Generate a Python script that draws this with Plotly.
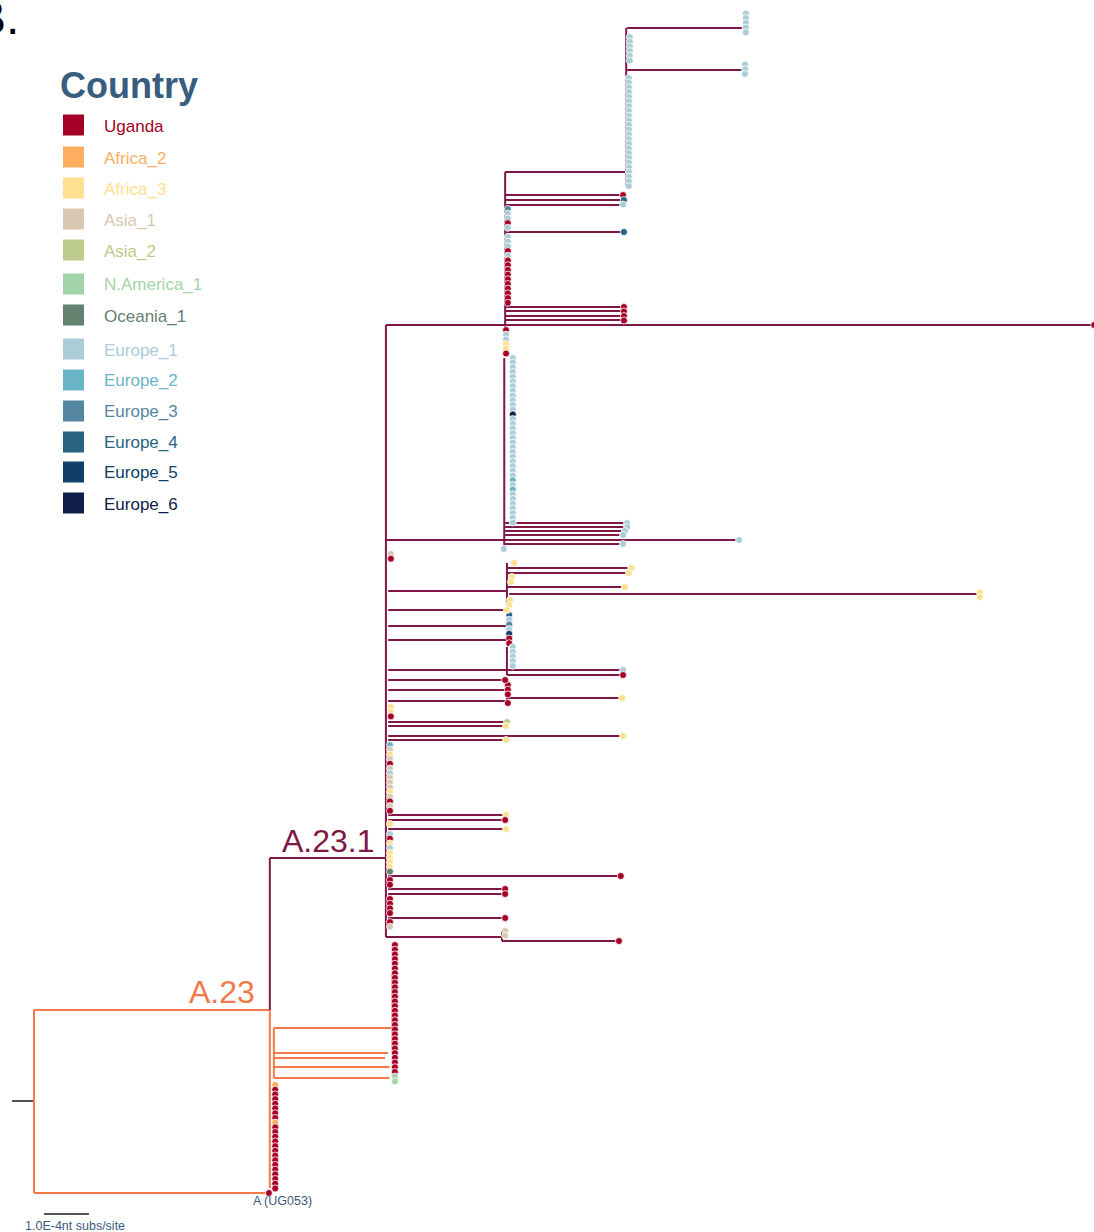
import plotly.graph_objects as go

# ---------------- data ----------------
COUNTRIES = ["Uganda", "Africa_2", "Africa_3", "Asia_1", "Asia_2", "N.America_1", "Oceania_1",
             "Europe_1", "Europe_2", "Europe_3", "Europe_4", "Europe_5", "Europe_6"]
CODES = ["U", "a", "f", "s", "t", "n", "o", "1", "2", "3", "4", "5", "6"]
COLORS = ["#a50026", "#fdae61", "#fee090", "#d8c8b1", "#bdcb8c", "#a2d4a8", "#648270",
          "#abcdd8", "#6bb4c8", "#5587a0", "#29637f", "#0f3e66", "#10204a"]

CLADE_COLORS = {"r": "#1a1a1a", "A": "#f4784a", "B": "#7f1747"}

# horizontal branches: (clade, y = tip order, x0, x1 = divergence in 1e-4 subs/site)
H_BRANCHES = [
    ("r", 1101, -0.49, 0.0),
    ("A", 1010, 0.0, 5.24), ("A", 1193, 0.0, 5.22),
    ("A", 1028, 5.33, 7.96), ("A", 1053, 5.33, 7.87), ("A", 1058, 5.33, 7.80),
    ("A", 1067, 5.33, 7.90), ("A", 1078, 5.33, 7.90),
    ("B", 858, 5.24, 7.82), ("B", 325, 7.82, 23.56), ("B", 540, 7.82, 15.67),
    ("B", 172, 10.47, 13.16), ("B", 195, 10.47, 13.09), ("B", 200, 10.47, 13.11),
    ("B", 205, 10.47, 13.09), ("B", 232, 10.47, 13.11), ("B", 307, 10.47, 13.11),
    ("B", 311, 10.47, 13.11), ("B", 316, 10.47, 13.11), ("B", 320, 10.47, 13.11),
    ("B", 28, 13.18, 15.73), ("B", 70, 13.18, 15.73),
    ("B", 523, 10.47, 13.18), ("B", 527, 10.47, 13.18), ("B", 531, 10.47, 13.13),
    ("B", 535, 10.47, 13.09), ("B", 544, 10.47, 13.09),
    ("B", 591, 7.87, 10.51), ("B", 568, 10.51, 13.27), ("B", 573, 10.51, 13.22),
    ("B", 587, 10.51, 13.13), ("B", 594, 10.56, 21.02),
    ("B", 610, 7.87, 10.51), ("B", 626, 7.87, 10.51), ("B", 640, 7.87, 10.51),
    ("B", 670, 7.87, 13.09), ("B", 675, 10.51, 13.09), ("B", 680, 7.87, 10.47),
    ("B", 690, 7.87, 10.51), ("B", 698, 10.51, 13.07), ("B", 701, 7.87, 10.51),
    ("B", 722, 7.87, 10.51), ("B", 726, 7.87, 10.49), ("B", 736, 7.87, 13.09),
    ("B", 740, 7.87, 10.49), ("B", 815, 7.87, 10.49), ("B", 820, 7.87, 10.47),
    ("B", 829, 7.87, 10.49), ("B", 876, 7.87, 13.04), ("B", 889, 7.87, 10.47),
    ("B", 894, 7.87, 10.47), ("B", 918, 7.87, 10.47), ("B", 937, 7.82, 10.40),
    ("B", 941, 10.40, 13.00),
]

# vertical branches: (clade, x, y0, y1)
V_BRANCHES = [
    ("A", 0.0, 1010, 1193), ("A", 5.24, 1010, 1188), ("A", 5.33, 1028, 1078),
    ("A", 7.96, 972, 1050),
    ("B", 5.24, 858, 1010), ("B", 7.82, 325, 937), ("B", 10.47, 172, 353),
    ("B", 13.16, 28, 186), ("B", 10.45, 358, 549), ("B", 10.51, 563, 605),
    ("B", 10.51, 615, 643), ("B", 10.51, 647, 675), ("B", 10.51, 685, 703),
    ("B", 10.40, 931, 941),
]

# columns of tips: (x, first tip order, country codes in order)
TIP_COLUMNS = [
    (15.82, 13.5, "11111"),
    (15.80, 64.5, "111"),
    (13.24, 37, "111111"),
    (13.22, 78, "1" * 24),
    (10.53, 209, "311U1"),
    (10.53, 237, "111U1" + "U" * 10),
    (10.49, 330, "U11ffU"),
    (10.64, 358, "1" * 12 + "6" + "1" * 13 + "2" + "1" + "2" + "1" * 7),
    (7.93, 554, "sU"),
    (10.56, 615, "41315UU"),
    (10.64, 647, "11111"),
    (10.53, 685, "UUU"),
    (7.93, 707, "ffU"),
    (7.91, 745, "2sfsUs1sssfsUsU"),
    (7.91, 834, "1Uf1ffffo"),
    (7.91, 880, "UU"),
    (7.91, 899, "UUUU"),
    (7.91, 922, "Us"),
    (10.47, 931, "ss"),
    (8.02, 945, "U" * 28 + "nn"),
    (5.36, 1085, "a" + "U" * 7 + "a" + "U" * 14),
]
TIP_STEP = 4.7

# single tips: (x, tip order, country code)
TIPS = [
    (13.09, 195, "U"), (13.11, 200, "4"), (13.09, 204.5, "1"), (13.11, 232, "4"),
    (13.11, 307, "U"), (13.11, 311.5, "U"), (13.11, 316, "U"), (13.11, 320.5, "U"),
    (23.56, 325, "U"),
    (13.18, 523, "1"), (13.18, 527, "1"), (13.13, 531, "1"), (13.09, 535, "1"),
    (15.67, 540, "1"), (13.09, 544, "1"), (10.44, 549, "1"),
    (10.67, 563, "f"), (13.27, 568, "f"), (13.22, 573, "f"), (10.62, 577, "f"),
    (10.60, 582, "f"), (13.13, 587, "f"), (21.02, 592.5, "f"), (21.02, 597, "f"),
    (10.58, 600, "f"), (10.56, 605, "f"), (10.51, 610, "f"),
    (13.09, 670, "1"), (13.09, 675, "U"), (10.47, 680, "U"), (13.07, 698, "f"),
    (10.53, 703, "U"), (10.51, 722, "t"), (10.49, 726, "f"), (13.09, 736, "f"),
    (10.49, 740, "f"), (10.49, 815, "f"), (10.47, 820, "U"), (7.91, 824, "f"),
    (10.49, 829, "f"), (13.04, 876, "U"), (10.47, 889, "U"), (10.47, 894, "U"),
    (10.47, 918, "U"), (13.00, 941, "U"), (5.22, 1193, "U"),
]

SCALE_BAR = 1.0  # 1.0E-4 nt subs/site

# ---------------- figure ----------------
W, H = 1094, 1232
X_RANGE = [-0.756, 23.556]
Y_RANGE = [1232, 0]

fig = go.Figure()

for clade, col in CLADE_COLORS.items():
    xs, ys = [], []
    for c, y, x0, x1 in H_BRANCHES:
        if c == clade:
            xs += [x0, x1, None]
            ys += [y, y, None]
    for c, x, y0, y1 in V_BRANCHES:
        if c == clade:
            xs += [x, x, None]
            ys += [y0, y1, None]
    fig.add_trace(go.Scatter(x=xs, y=ys, mode="lines",
                             line=dict(color=col, width=2 if clade != "r" else 1.5),
                             hoverinfo="skip", showlegend=False))

code_color = dict(zip(CODES, COLORS))
tx, ty, tc = [], [], []
for x, y0, codes in TIP_COLUMNS:
    for i, ch in enumerate(codes):
        tx.append(x)
        ty.append(y0 + i * TIP_STEP)
        tc.append(code_color[ch])
for x, y, ch in TIPS:
    tx.append(x)
    ty.append(y)
    tc.append(code_color[ch])

fig.add_trace(go.Scatter(x=tx, y=ty, mode="markers",
                         marker=dict(size=7, color=tc, line=dict(color="white", width=0.8)),
                         hoverinfo="skip", showlegend=False))

# scale bar
fig.add_trace(go.Scatter(x=[0.22, 0.22 + SCALE_BAR], y=[1214, 1214], mode="lines",
                         line=dict(color="#1a1a1a", width=1.5), hoverinfo="skip",
                         showlegend=False))

FONT = "Liberation Sans, Arial, Helvetica, sans-serif"
ann = []
ann.append(dict(x=0.91, y=1226, xref="x", yref="y", text="1.0E-4nt subs/site",
                xanchor="center", yanchor="middle",
                showarrow=False, font=dict(family=FONT, size=12.5, color="#3d5a80")))
ann.append(dict(x=5.53, y=1201, xref="x", yref="y", text="A (UG053)",
                xanchor="center", yanchor="middle",
                showarrow=False, font=dict(family=FONT, size=12.5, color="#3d5a80")))
ann.append(dict(x=4.95, y=992, xref="x", yref="y", text="A.23", xanchor="right",
                yanchor="middle",
                showarrow=False, font=dict(family=FONT, size=32, color="#f4784a")))
ann.append(dict(x=7.63, y=841, xref="x", yref="y", text="A.23.1", xanchor="right",
                yanchor="middle",
                showarrow=False, font=dict(family=FONT, size=32, color="#7f1747")))


def px(xp):
    return xp / W


def py(yp):
    return 1 - yp / H


ann.append(dict(x=px(21), y=py(17), xref="paper", yref="paper", text="B.", xanchor="right",
                yanchor="middle",
                showarrow=False, font=dict(family=FONT, size=48, color="black")))
ann.append(dict(x=px(58), y=py(85), xref="paper", yref="paper", text="<b>Country</b>",
                xanchor="left", yanchor="middle", showarrow=False,
                font=dict(family=FONT, size=36, color="#385d7e")))

LEGEND_Y = [125, 157, 188, 219, 250, 284, 315, 349, 380, 411, 442, 472, 503]
shapes = []
for name, col, yc in zip(COUNTRIES, COLORS, LEGEND_Y):
    shapes.append(dict(type="rect", xref="paper", yref="paper",
                       x0=px(63), x1=px(84), y0=py(yc - 10.5), y1=py(yc + 10.5),
                       fillcolor=col, line=dict(width=0)))
    ann.append(dict(x=px(102), y=py(yc + 1), xref="paper", yref="paper", text=name,
                    xanchor="left", yanchor="middle", showarrow=False,
                    font=dict(family=FONT, size=17, color=col)))

fig.update_layout(
    width=W, height=H, margin=dict(l=0, r=0, t=0, b=0),
    paper_bgcolor="white", plot_bgcolor="white",
    xaxis=dict(range=X_RANGE, visible=False, fixedrange=True),
    yaxis=dict(range=Y_RANGE, visible=False, fixedrange=True),
    annotations=ann, shapes=shapes, showlegend=False,
)

fig.write_html("out.html", config={"displayModeBar": False},
               post_script="document.body.style.margin='0';document.body.style.overflow='hidden';")
